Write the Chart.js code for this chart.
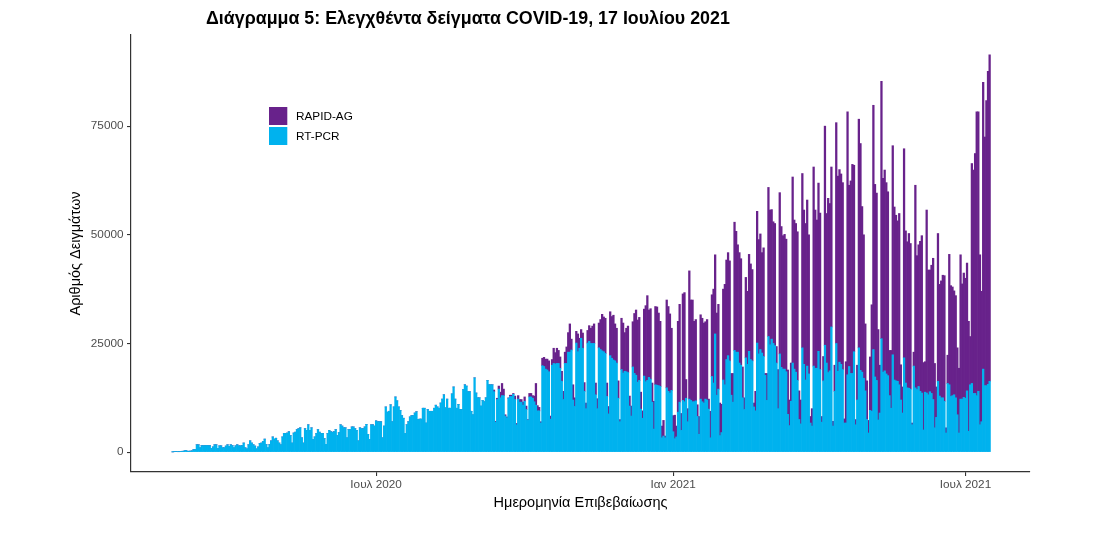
<!DOCTYPE html>
<html>
<head>
<meta charset="utf-8">
<script src="https://cdn.jsdelivr.net/npm/chart.js@4.4.1/dist/chart.umd.min.js"></script>
<style>
html,body{margin:0;padding:0;background:#ffffff;}
canvas{display:block;}
</style>
</head>
<body>
<canvas id="c" width="1110" height="543"></canvas>
<script>
// Day index 0 = 26 Feb 2020 ... 506 = 16 Jul 2021
const titleText = 'Διάγραμμα 5: Ελεγχθέντα δείγματα COVID-19, 17 Ιουλίου 2021';
const xTitle = 'Ημερομηνία Επιβεβαίωσης';
const yTitle = 'Αριθμός Δειγμάτων';
const seriesNames = ['RT-PCR', 'RAPID-AG'];
const tickDays = [126, 310, 491];
const tickLabels = ['Ιουλ 2020', 'Ιαν 2021', 'Ιουλ 2021'];
const yTicks = [0, 25000, 50000, 75000];

// RT-PCR daily samples (one line per week, Mon..Sun after the first line)
const pcr = [
  50,100,150,100,100,
  150,200,250,400,250,200,250,
  300,600,600,1700,1700,1000,1500,
  1500,1500,1550,1500,1500,850,1200,
  1700,1700,850,1450,1450,1000,1000,
  1400,1700,1300,1700,1500,1000,1450,
  1700,1450,1450,1500,2100,1000,750,
  1700,2600,2100,1700,1400,750,1200,
  2000,2100,2450,3000,1750,1000,1750,
  2600,3500,3000,3200,2600,2100,1700,
  3500,4300,4300,4400,4700,3800,2100,
  4400,4600,5200,5400,5600,3300,2100,
  5400,5000,6300,5000,5600,2900,3500,
  4300,5200,4600,4300,4300,3100,1800,
  4300,5000,4700,4600,4700,5200,3800,
  4500,6300,6000,5600,5600,3300,5200,
  5200,5800,5800,5400,5000,2600,5600,
  5400,5400,5800,6400,4100,2900,6300,
  6300,6000,7200,7000,7000,7000,3300,
  6000,10400,9200,9400,10900,7000,10400,
  12700,11800,10400,9600,8400,7800,4300,
  6300,7000,8100,8400,8400,9000,9300,
  7500,7600,7600,10100,10100,6700,9800,
  9400,9400,9400,10100,10800,10400,10100,
  11300,12200,13200,10200,12200,10100,10100,
  13400,15000,12200,10100,11000,9800,9800,
  14400,15500,15200,13900,13900,9400,8600,
  17100,13600,12500,12500,10600,11900,11600,
  12500,16500,15500,15500,15500,13900,6900,
  12100,14500,12500,13000,13000,8300,7900,
  12400,12800,12800,13300,12100,6300,12200,
  11500,11500,10800,11700,9800,7300,12700,
  12700,12400,11600,10800,9500,9500,6700,
  19900,19700,19100,18900,18500,7600,20000,
  20400,20300,20400,20400,19300,16300,12100,
  20400,20400,23000,23000,23500,12000,10500,
  25100,23100,23900,26200,23900,14000,10000,
  25100,25500,25000,25000,25000,13200,10000,
  24000,23600,23300,23100,22700,12800,8800,
  22200,21600,21200,21000,20500,12400,7000,
  19000,18200,18600,18500,18300,10600,8300,
  19600,18100,17700,16100,16500,9900,7800,
  17500,16200,16500,17200,16800,11500,5300,
  15500,15400,15300,15100,3300,3700,3300,
  14800,14000,13600,14200,4700,3100,3500,
  9200,11500,5000,11900,11600,12400,7000,
  12200,11900,11600,11600,11800,8200,4100,
  12200,11600,11300,12200,12000,9900,3300,
  17400,15900,27200,13100,14500,3800,4500,
  16600,15500,21300,22200,21000,13100,11500,
  23400,23000,23000,20500,20000,12500,9800,
  21700,20200,23200,21300,21000,10400,9500,
  25100,22600,23600,22800,22000,17700,11900,
  26600,24700,26000,25000,24500,20500,10000,
  22600,19500,19100,19100,18500,8700,6100,
  11700,20500,19100,18400,16500,7500,6500,
  24000,20200,16600,19800,18000,6700,6000,
  19800,19300,19300,23200,19000,6900,16400,
  24600,20500,18300,18700,28800,6000,14000,
  25000,18600,20700,20200,19000,6700,6700,
  17800,19700,18100,18100,23100,6300,12000,
  24000,18800,18400,17000,14100,7500,4400,
  9600,9400,23600,17300,16500,7400,9000,
  26100,18400,18700,18000,17600,13000,10100,
  22400,16600,16400,16300,15500,12000,9000,
  21700,15900,14800,14700,14500,6300,19800,
  14800,14400,15100,14000,13600,5100,13800,
  13600,13200,13900,13500,12100,5600,8000,
  16300,12900,12500,12500,11700,4400,15800,
  15500,12800,13000,13200,12500,8600,4400,
  12200,12200,12600,12400,14100,4800,15500,
  15800,13500,13500,13000,14000,6300,7000,
  19100,15300,15300,15600,16300
];

// RAPID-AG daily samples (same layout)
const rapid = [
  0,0,0,0,0,
  0,0,0,0,0,0,0,
  0,0,0,0,0,0,0,
  0,0,0,0,0,0,0,
  0,0,0,0,0,0,0,
  0,0,0,0,0,0,0,
  0,0,0,0,0,0,0,
  0,0,0,0,0,0,0,
  0,0,0,0,0,0,0,
  0,0,0,0,0,0,0,
  0,0,0,0,0,0,0,
  0,0,0,0,0,0,0,
  0,0,0,0,0,0,0,
  0,0,0,0,0,0,0,
  0,0,0,0,0,0,0,
  0,0,0,0,0,0,0,
  0,0,0,0,0,0,0,
  0,0,0,0,0,0,0,
  0,0,0,0,0,0,0,
  0,0,0,0,0,0,0,
  0,0,0,0,0,0,0,
  0,0,0,0,0,0,0,
  0,0,0,0,0,0,0,
  0,0,0,0,0,0,0,
  0,0,0,0,0,0,0,
  0,0,0,0,0,0,0,
  0,0,0,0,0,0,0,
  0,0,0,0,0,0,0,
  0,0,0,0,0,400,200,
  300,700,1300,2800,1500,300,200,
  100,300,300,200,800,300,800,
  600,600,700,1000,800,200,800,
  800,600,1300,5000,1200,800,300,
  1700,2100,2300,2500,2500,700,1300,
  3500,2600,3500,3000,2600,2300,1900,
  2600,3800,4500,6500,2500,3500,2000,
  2700,4100,2300,2000,3500,2000,1300,
  2900,3600,3500,4000,4500,2700,2300,
  5700,6900,8400,8000,8100,3100,1700,
  10100,9600,10300,8500,8000,4000,500,
  11800,11500,8900,10000,10700,2300,2300,
  10400,13800,15000,14300,14500,3900,1700,
  15400,17500,19500,15500,16200,4400,6400,
  18000,18000,16700,15000,2700,3600,400,
  20200,19500,18200,14300,3700,5400,2500,
  20900,22500,3900,24500,25100,4300,3000,
  29500,23100,23400,18500,18700,2700,4100,
  19400,19200,18400,17800,18500,2300,6100,
  18800,21600,18200,18900,19500,7500,6500,
  20900,23100,22900,23700,23000,5000,6600,
  29500,27800,24700,25400,24500,7100,2700,
  18500,16800,22300,22000,21000,900,4500,
  30300,26300,26600,23100,25000,400,6200,
  34300,31000,29800,28000,28100,3800,9000,
  37100,32400,30700,31000,30500,10200,5900,
  8800,42800,34300,34200,34200,6600,5500,
  40100,35500,36000,38200,32000,1500,4000,
  45800,36400,34100,38700,36000,1300,5600,
  50400,34400,40100,38500,36800,1100,6000,
  50800,44900,44300,43800,43000,950,14100,
  60500,41700,44300,48100,42900,1200,8000,
  52600,52200,38100,33000,15400,8900,2900,
  12300,24500,56200,44300,43100,20800,11000,
  59200,44600,46200,44000,42300,10400,13300,
  48100,39800,38100,36900,39400,8100,6000,
  48100,35000,33600,35600,33500,400,3200,
  46600,30800,32600,34500,36200,15500,7000,
  42100,28700,28000,29500,32500,14800,7000,
  34000,25700,26900,28200,28900,1200,6500,
  30000,25500,25000,23900,23500,15400,14900,
  33200,26500,28600,27600,29400,25300,11100,
  50600,51400,55200,65300,64300,39100,30000,
  66000,57200,65600,72000,75100
];

const FONT = '"Liberation Sans", Arial, Helvetica, sans-serif';
const COL_PCR = '#00B2EE';
const COL_RAPID = '#68228B';
const AXIS_COL = '#333333';

const yMax = 95970, yMin = -4570;
const xMin = -25.8, xMax = 531;

function fitFont(ctx, text, weight, baseSize, targetWidth) {
  ctx.font = weight + ' ' + baseSize + 'px ' + FONT;
  const w = ctx.measureText(text).width;
  return baseSize * targetWidth / w;
}

const textPlugin = {
  id: 'texts',
  afterDraw(chart) {
    const c = chart.ctx;
    const ca = chart.chartArea;
    c.save();
    c.fillStyle = '#000000';
    // Title
    const ts = Math.min(18, Math.max(15, fitFont(c, titleText, 'bold', 16, 524)));
    c.font = 'bold ' + ts.toFixed(2) + 'px ' + FONT;
    c.textAlign = 'left';
    c.textBaseline = 'alphabetic';
    c.fillText(titleText, 206, 23.5);
    // X title
    c.font = '14.5px ' + FONT;
    c.textAlign = 'center';
    c.textBaseline = 'alphabetic';
    c.fillText(xTitle, (ca.left + ca.right) / 2, 506.5);
    // Y title
    c.save();
    c.translate(80, (ca.top + ca.bottom) / 2);
    c.rotate(-Math.PI / 2);
    c.textBaseline = 'alphabetic';
    c.fillText(yTitle, 0, 0);
    c.restore();
    // Legend
    c.fillStyle = COL_RAPID;
    c.fillRect(269, 107, 18.3, 18);
    c.fillStyle = COL_PCR;
    c.fillRect(269, 127, 18.3, 18);
    c.fillStyle = '#000000';
    c.font = '11.75px ' + FONT;
    c.textAlign = 'left';
    c.textBaseline = 'middle';
    c.fillText(seriesNames[1], 296, 116.5);
    c.fillText(seriesNames[0], 296, 136.5);
    c.restore();
  }
};

const barCommon = {
  stack: 's',
  barPercentage: 1,
  categoryPercentage: 1,
  borderWidth: 0,
  borderSkipped: false
};

new Chart(document.getElementById('c'), {
  type: 'bar',
  data: {
    datasets: [
      Object.assign({ label: seriesNames[0], backgroundColor: COL_PCR,
        data: pcr.map((v, i) => ({ x: i, y: v })) }, barCommon),
      Object.assign({ label: seriesNames[1], backgroundColor: COL_RAPID,
        data: rapid.map((v, i) => ({ x: i, y: v })) }, barCommon)
    ]
  },
  options: {
    responsive: false,
    animation: false,
    devicePixelRatio: 1,
    layout: { padding: { left: 0, right: 80, top: 35, bottom: 0 } },
    plugins: {
      legend: { display: false },
      title: { display: false },
      tooltip: { enabled: false }
    },
    scales: {
      x: {
        type: 'linear',
        stacked: true,
        offset: false,
        min: xMin,
        max: xMax,
        afterBuildTicks: s => { s.ticks = tickDays.map(v => ({ value: v })); },
        afterFit: s => { s.height = 71; },
        ticks: {
          autoSkip: false,
          maxRotation: 0,
          minRotation: 0,
          padding: 2,
          color: '#4D4D4D',
          font: { family: FONT, size: 11.75 },
          callback: v => { const k = tickDays.indexOf(v); return k >= 0 ? tickLabels[k] : ''; }
        },
        grid: { display: true, offset: false, drawOnChartArea: false, drawTicks: true, tickLength: 4, color: AXIS_COL, lineWidth: 1.1 },
        border: { display: true, color: AXIS_COL, width: 1.2 }
      },
      y: {
        stacked: true,
        min: yMin,
        max: yMax,
        afterBuildTicks: s => { s.ticks = yTicks.map(v => ({ value: v })); },
        afterFit: s => { s.width = 131; },
        ticks: {
          padding: 3.5,
          color: '#4D4D4D',
          font: { family: FONT, size: 11.75 },
          callback: v => String(v)
        },
        grid: { display: true, offset: false, drawOnChartArea: false, drawTicks: true, tickLength: 4, color: AXIS_COL, lineWidth: 1.1 },
        border: { display: true, color: AXIS_COL, width: 1.2 }
      }
    }
  },
  plugins: [textPlugin]
});
</script>
</body>
</html>
